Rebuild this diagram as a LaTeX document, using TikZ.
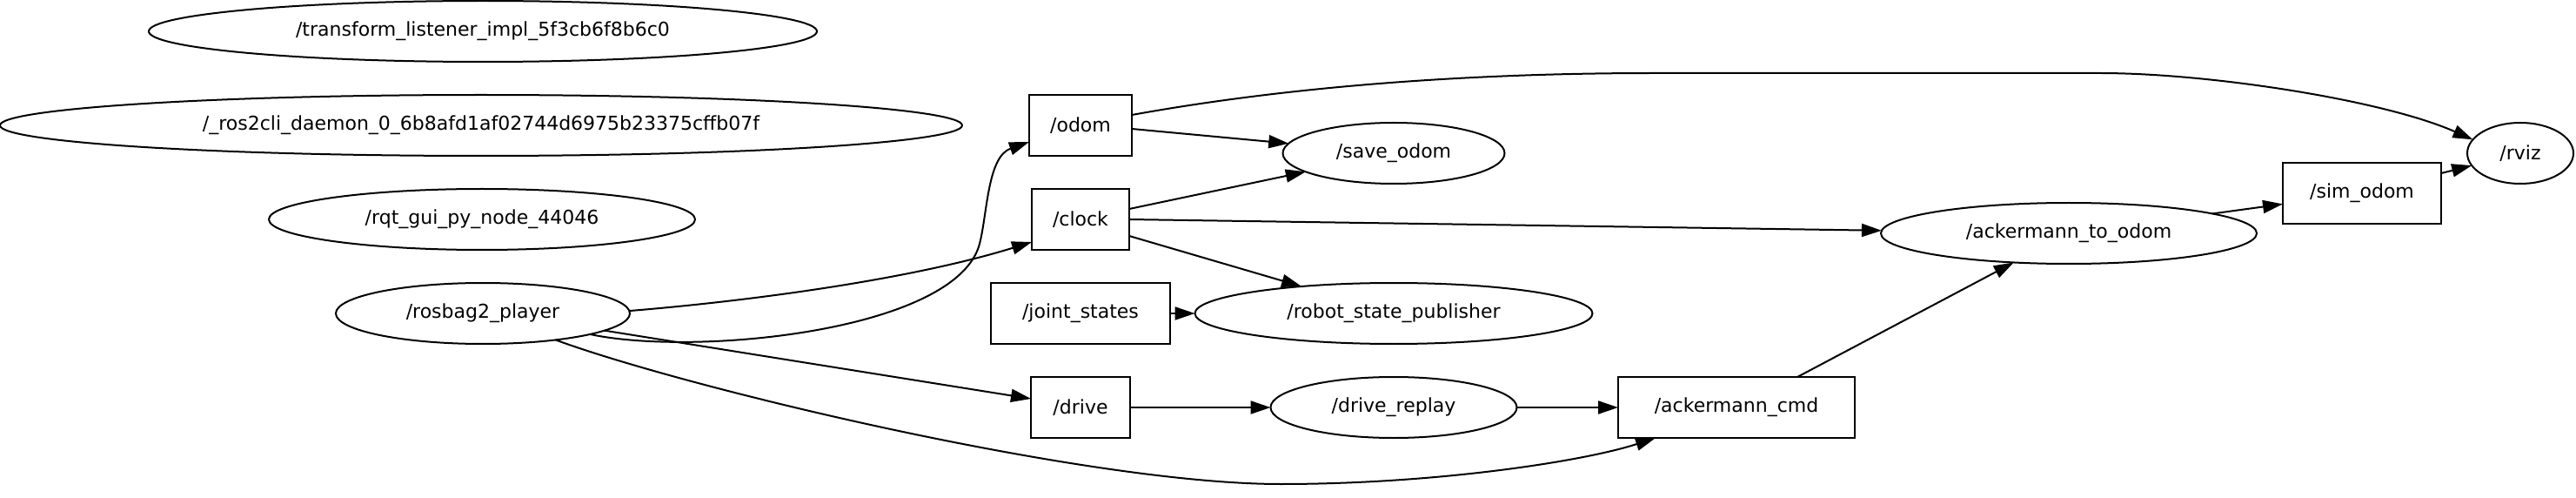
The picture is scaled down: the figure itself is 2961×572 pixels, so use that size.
\documentclass[tikz,border=0pt]{standalone}
\usepackage{fontspec}
\setmainfont{DejaVu Sans}
\usetikzlibrary{shapes.geometric,arrows.meta,calc}
\begin{document}
\begin{tikzpicture}[x=0.5pt,y=-0.5pt,
  every node/.style={font=\fontsize{11}{13}\selectfont, inner sep=0pt, outer sep=0pt, line width=1pt},
  nd/.style={draw, ellipse, minimum height=35pt},
  tp/.style={draw, rectangle, minimum height=35pt},
  conn/.style={line width=1pt, -{Triangle[length=11.5pt,width=7.5pt]}}]
\useasboundingbox (0,0) rectangle (2961,572);

\node[nd, minimum width=384pt] (tl) at (555,36) {/transform\_listener\_impl\_5f3cb6f8b6c0};
\node[nd, minimum width=553pt] (ros) at (553,144) {/\_ros2cli\_daemon\_0\_6b8afd1af02744d6975b23375cffb07f};
\node[nd, minimum width=245pt] (rqt) at (554,252) {/rqt\_gui\_py\_node\_44046};
\node[nd, minimum width=169pt] (bag) at (555,360) {/rosbag2\_player};
\node[tp, minimum width=59pt] (odom) at (1242,144) {/odom};
\node[tp, minimum width=56pt] (clock) at (1242,252) {/clock};
\node[tp, minimum width=103pt] (joint) at (1242,360) {/joint\_states};
\node[tp, minimum width=57pt] (drive) at (1242,468) {/drive};
\node[nd, minimum width=127.5pt] (save) at (1602,176) {/save\_odom};
\node[nd, minimum width=228.5pt] (rsp) at (1602,360) {/robot\_state\_publisher};
\node[nd, minimum width=141.5pt] (replay) at (1602,468) {/drive\_replay};
\node[tp, minimum width=136pt] (ackcmd) at (1996,468) {/ackermann\_cmd};
\node[nd, minimum width=216pt] (a2o) at (2378,268) {/ackermann\_to\_odom};
\node[tp, minimum width=91pt] (sim) at (2715,222) {/sim\_odom};
\node[nd, minimum width=61pt] (rviz) at (2897,176) {/rviz};

\draw[conn] (bag.-11) .. controls (800,410) and (1100,380) .. (1126,280) .. controls (1135,245) and (1135,180) .. ($(odom.west)+(0,19)$);
\draw[conn] (bag.1) .. controls (870,345) and (1050,320) .. ($(clock.west)+(0,26)$);
\draw[conn] (bag.-8) -- ($(drive.west)+(0,-10)$);
\draw[conn] (bag.-20) .. controls (790,446) and (1250,556) .. (1472,556) .. controls (1650,556) and (1820,530) .. ($(ackcmd.south west)+(43,0)$);
\draw[conn] ($(odom.east)+(0,4)$) -- (save);
\draw[conn] ($(odom.east)+(0,-12)$) .. controls (1450,105) and (1650,84) .. (1900,84) -- (2414,84) .. controls (2540,84) and (2740,115) .. (rviz.164);
\draw[conn] ($(clock.east)+(0,-12)$) -- (save);
\draw[conn] (clock.east) -- (a2o);
\draw[conn] ($(clock.east)+(0,19)$) -- (rsp);
\draw[conn] (joint) -- (rsp);
\draw[conn] (drive) -- (replay);
\draw[conn] (replay) -- (ackcmd);
\draw[conn] ($(ackcmd.north)+(70,0)$) -- (a2o);
\draw[conn] (a2o) -- (sim);
\draw[conn] (sim) -- (rviz);
\end{tikzpicture}
\end{document}
